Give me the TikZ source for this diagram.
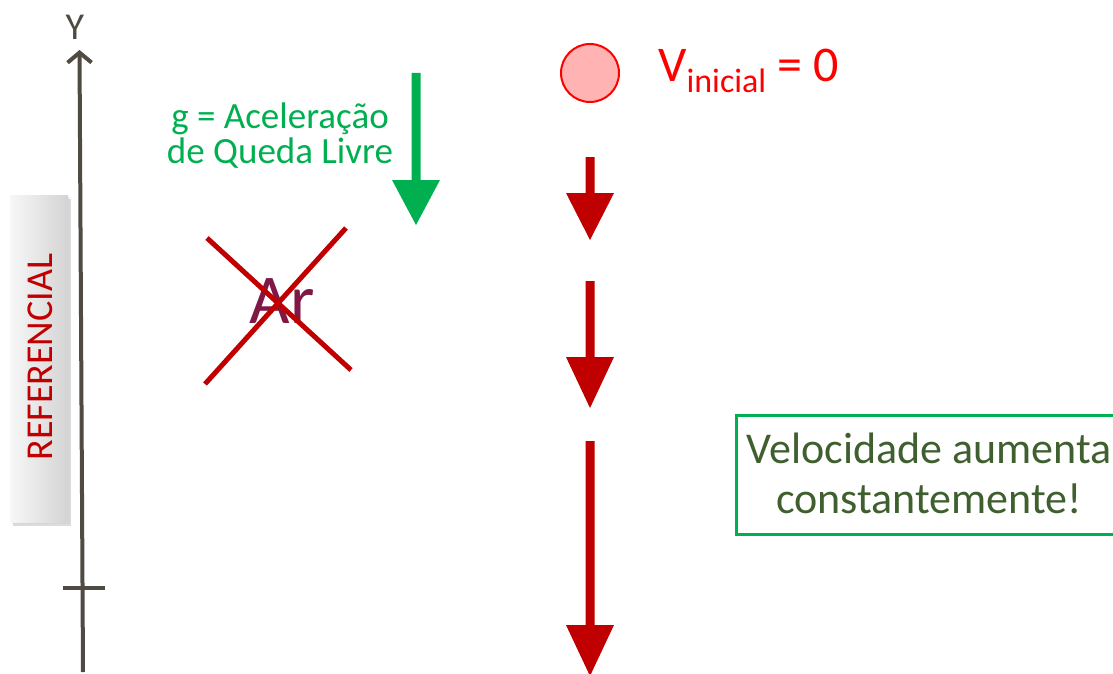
\documentclass[tikz,border=0pt]{standalone}
\usepackage{fontspec}
\setmainfont{Carlito}
\usetikzlibrary{arrows.meta}
\definecolor{axisc}{HTML}{4F4A42}
\definecolor{gred}{HTML}{C00000}
\definecolor{ggreen}{HTML}{00B050}
\definecolor{armaroon}{HTML}{7F1845}
\definecolor{boxtext}{HTML}{3F5F2F}
\definecolor{ballfill}{HTML}{FFB3B3}
\tikzset{
  axisline/.style={line width=4pt, draw=axisc},
  crossline/.style={line width=5pt, draw=gred},
  redarrow/.style={fill=gred, draw=none},
  greenarrow/.style={fill=ggreen, draw=none},
}
\begin{document}
\begin{tikzpicture}[x=1pt,y=-1pt]
\useasboundingbox (0,0) rectangle (1113,674);
% reference label box
\fill[black!30, opacity=0.45] (13,199) rectangle (71,526);
\fill[black!20, opacity=0.35] (12,197) rectangle (70,524);
\shade[left color=white!97!black, right color=black!17] (10,195) rectangle (68,522);
\node[rotate=90, text=gred, font=\fontsize{38}{42}\selectfont] (ref) at (40.5,357) {REFERENCIAL};
% axis
\coordinate (ybot) at (83,672);
\coordinate (ytop) at (79.5,50);
\draw[axisline, -{Straight Barb[length=10pt,width=24pt,line width=4pt]}] (ybot) -- (ytop);
\coordinate (tickl) at (63,588);
\coordinate (tickr) at (105,588);
\draw[axisline] (tickl) -- (tickr);
\node[text=axisc, font=\fontsize{38}{40}\selectfont, anchor=base] (ylab) at (75,40) {Y};
% gravity arrow
\fill[greenarrow] (411.5,73) -- (420.5,73) -- (420.5,180) -- (440,180) -- (416,225) -- (392,180) -- (411.5,180) -- cycle;
\node[text=ggreen, align=center, anchor=base, font=\fontsize{37}{35}\selectfont] (glab) at (280,163) {g = Aceleração\\de Queda Livre};
% Ar crossed
\node[text=armaroon, anchor=base, font=\fontsize{70}{70}\selectfont] (ar) at (282,323) {Ar};
\draw[crossline] (207,238) -- (351,370);
\draw[crossline] (205,384) -- (346,228);
% ball
\node[circle, minimum size=58pt, inner sep=0pt, fill=ballfill, draw=red, line width=2pt] (ball) at (590,73) {};
\node[text=red, anchor=base west, inner sep=0pt, font=\fontsize{50}{54}\selectfont] (vlab) at (658,82) {V\raisebox{-11pt}{\fontsize{34}{36}\selectfont inicial} = 0};
% red arrows
\fill[redarrow] (585.5,157) -- (594.5,157) -- (594.5,193) -- (614,193) -- (590,240) -- (566,193) -- (585.5,193) -- cycle;
\fill[redarrow] (585.5,281) -- (594.5,281) -- (594.5,357) -- (614,357) -- (590,408) -- (566,357) -- (585.5,357) -- cycle;
\fill[redarrow] (585.5,441) -- (594.5,441) -- (594.5,625) -- (614,625) -- (590,676) -- (566,625) -- (585.5,625) -- cycle;
% text box
\draw[ggreen, line width=3pt] (1125,415) -- (736,415) -- (736,534) -- (1125,534);
\node[text=boxtext, align=center, anchor=base, font=\fontsize{44}{50}\selectfont] (vbox) at (929,513) {Velocidade aumenta\\constantemente!};
\end{tikzpicture}
\end{document}
